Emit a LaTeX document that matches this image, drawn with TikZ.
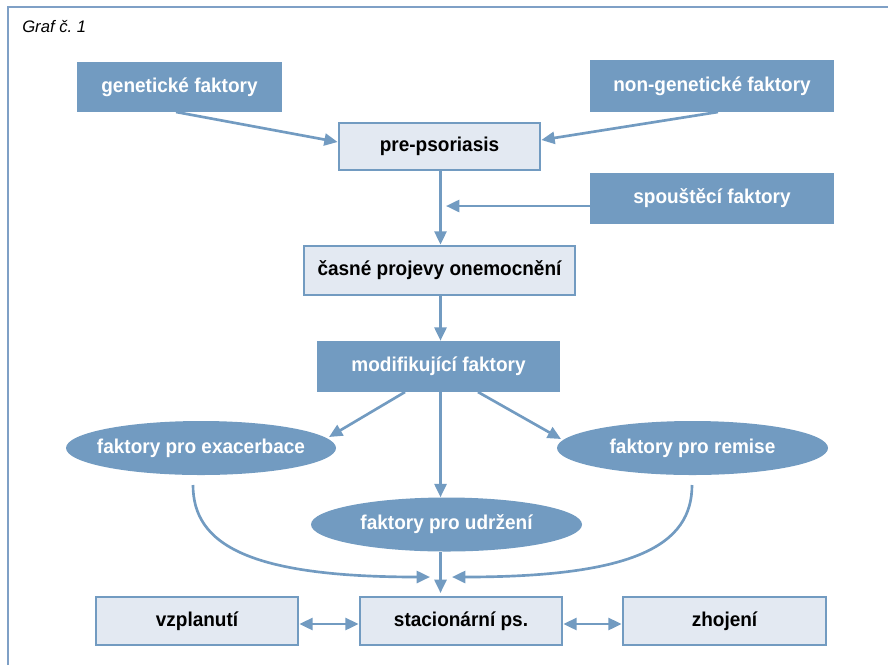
\documentclass[tikz,border=0pt]{standalone}
\usepackage{fontspec}
\setmainfont{Liberation Sans}[FakeStretch=0.95]
\newfontfamily\capfont{Liberation Sans}
\usetikzlibrary{shapes.geometric,arrows.meta}
\definecolor{dark}{HTML}{729BC1}
\definecolor{light}{HTML}{E3E9F2}
\definecolor{frame}{HTML}{7FA0C6}
\newcommand{\zw}[1]{\makebox[0pt]{#1}}
\tikzset{
  lbl/.style={font=\bfseries\fontsize{15}{17}\selectfont},
  darkbox/.style={rectangle,fill=dark,text=white,lbl,inner sep=0pt},
  lightbox/.style={rectangle,fill=light,draw=dark,line width=2pt,text=black,lbl,inner sep=0pt},
  darkell/.style={ellipse,fill=dark,text=white,lbl,inner sep=0pt},
  conn/.style={draw=dark,line width=2pt,-{Triangle[length=10pt,width=9pt]}},
  bconn/.style={draw=dark,line width=2pt,{Triangle[length=10pt,width=9pt]}-{Triangle[length=10pt,width=9pt]}}
}
\begin{document}
\begin{tikzpicture}[x=0.75pt,y=-0.75pt]
\useasboundingbox (0,0) rectangle (888,665);
\draw[frame,line width=1.8pt] (8,665) -- (8,7) -- (888,7);
\node[anchor=west,inner sep=0pt,font=\capfont\itshape\fontsize{12.5}{14}\selectfont] (cap) at (22,27) {Graf č.\ 1};

\node[darkbox,minimum width=205*0.75pt,minimum height=50*0.75pt] (gen) at (179.5,87) {genetické faktory};
\node[darkbox,minimum width=244*0.75pt,minimum height=52*0.75pt] (non) at (712,86) {non-genetické faktory};
\node[lightbox,minimum width=201*0.75pt,minimum height=47*0.75pt] (pre) at (439.5,146.5) {pre-psoriasis};
\node[darkbox,minimum width=244*0.75pt,minimum height=51*0.75pt] (spou) at (712,198.5) {spouštěcí faktory};
\node[lightbox,minimum width=271*0.75pt,minimum height=49*0.75pt] (cas) at (439.5,270.5) {časné projevy onemocnění};
\node[darkbox,minimum width=243*0.75pt,minimum height=51*0.75pt] (mod) at (438.5,366.5) {modifikující faktory};
\node[darkell,minimum width=270*0.75pt,minimum height=54*0.75pt] (exa) at (201,448) {\zw{faktory pro exacerbace}};
\node[darkell,minimum width=271*0.75pt,minimum height=54*0.75pt] (rem) at (692.5,448) {\zw{faktory pro remise}};
\node[darkell,minimum width=271*0.75pt,minimum height=54*0.75pt] (udr) at (446.5,524.5) {\zw{faktory pro udržení}};
\node[lightbox,minimum width=202*0.75pt,minimum height=48*0.75pt] (vzp) at (197,621) {vzplanutí};
\node[lightbox,minimum width=202*0.75pt,minimum height=48*0.75pt] (sta) at (461,621) {stacionární ps.};
\node[lightbox,minimum width=203*0.75pt,minimum height=48*0.75pt] (zho) at (724.5,621) {zhojení};

\coordinate (g1) at (176,112);
\coordinate (n1) at (718,112);
\coordinate (sp) at (446,206);
\coordinate (m1) at (405,392);
\coordinate (m2) at (478,392);
\coordinate (m3) at (440.5,392);
\coordinate (e1) at (193,485);
\coordinate (e2) at (430,577);
\coordinate (r1) at (692,485);
\coordinate (r2) at (452,577);

\draw[conn] (g1) -- (pre.west |- 0,142);
\draw[conn] (n1) -- (pre.east |- 0,140);
\draw[conn] (pre.south -| 440.5,0) -- (cas.north -| 440.5,0);
\draw[conn] (spou.west |- sp) -- (sp);
\draw[conn] (cas.south -| 440.5,0) -- (mod.north -| 440.5,0);
\draw[conn] (m1) -- (329,437);
\draw[conn] (m2) -- (561,439);
\draw[conn] (m3) -- (udr.north -| m3);
\draw[conn] (udr.south -| m3) -- (440.5,593);
\draw[conn] (e1) .. controls (193,545) and (250,577) .. (e2);
\draw[conn] (r1) .. controls (692,545) and (635,577) .. (r2);
\draw[bconn] (vzp.east |- 0,624) -- (sta.west |- 0,624);
\draw[bconn] (sta.east |- 0,624) -- (zho.west |- 0,624);
\end{tikzpicture}
\end{document}
